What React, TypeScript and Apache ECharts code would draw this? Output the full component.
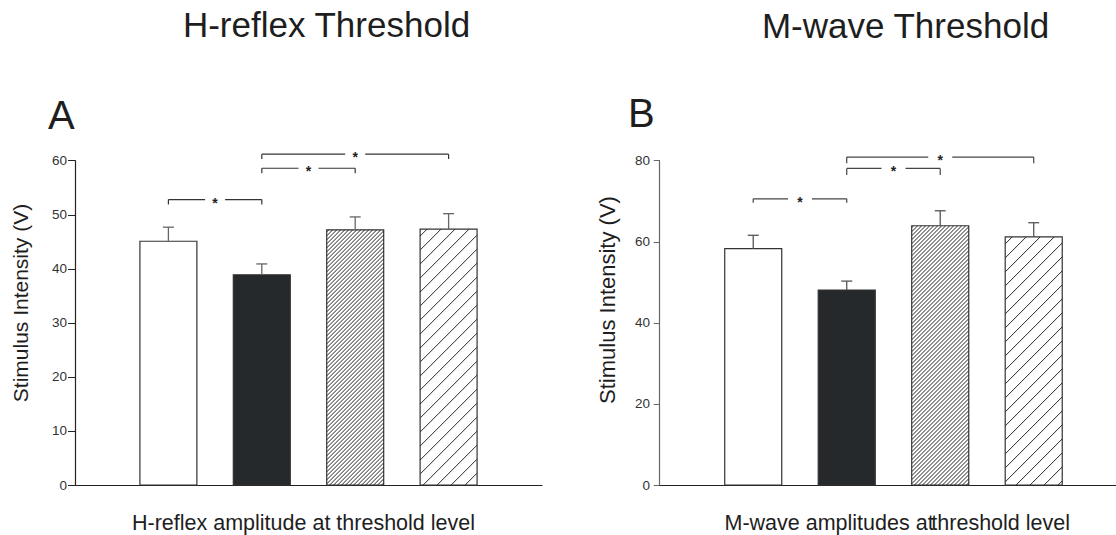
import React, { useEffect, useRef } from "react";
import * as echarts from "echarts";

// ---- data ----
const barX = [1, 2, 3, 4];
const barPatterns = ["open", "solid", "denseHatch", "sparseHatch"];

const hMeans = [45.1, 38.9, 47.2, 47.35];
const hErrs = [2.6, 2.0, 2.4, 2.85];
const hTicks = { min: 0, max: 60, interval: 10 };
// [fromX, toX, lineY, tipY]
const hBrackets = [
  [1, 2, 52.8, 51.9],
  [2, 3, 58.6, 57.7],
  [2, 4, 61.2, 60.3],
];

const mMeans = [58.3, 48.1, 63.95, 61.2];
const mErrs = [3.3, 2.2, 3.7, 3.5];
const mTicks = { min: 0, max: 80, interval: 20 };
const mBrackets = [
  [1, 2, 70.6, 69.6],
  [2, 3, 78.1, 76.5],
  [2, 4, 80.9, 79.4],
];

const titleLeft = "H-reflex Threshold";
const titleRight = "M-wave Threshold";
const panelA = "A";
const panelB = "B";
const yName = "Stimulus Intensity (V)";
const xNameLeft = "H-reflex amplitude at threshold level";
const xNameRightA = "M-wave amplitudes at";
const xNameRightB = "threshold level";
const starLabel = "*";

const FONT = "Liberation Sans, Arial, Helvetica, sans-serif";
const BAR_UNITS = 0.61;

function hatchLines(x0: number, yTop: number, w: number, h: number, step: number, color: string, lw: number) {
  const yB = yTop + h;
  const out: any[] = [];
  for (let c = -h + step / 2; c < w; c += step) {
    const v0 = Math.max(0, -c);
    const v1 = Math.min(h, w - c);
    if (v1 <= v0) continue;
    out.push({
      type: "line",
      shape: { x1: x0 + v0 + c, y1: yB - v0, x2: x0 + v1 + c, y2: yB - v1 },
      style: { stroke: color, lineWidth: lw },
    });
  }
  return out;
}

function barRender(errColor: string) {
  return (params: any, api: any) => {
    const x = api.value(0);
    const v = api.value(1);
    const e = api.value(2);
    const p = barPatterns[api.value(3)];
    const top = api.coord([x, v]);
    const base = api.coord([x, 0]);
    const errTop = api.coord([x, v + e]);
    const w = api.size([BAR_UNITS, 0])[0];
    const x0 = top[0] - w / 2;
    const h = base[1] - top[1];
    const children: any[] = [];
    children.push({
      type: "rect",
      shape: { x: x0, y: top[1], width: w, height: h },
      style: { fill: p === "solid" ? "#26292c" : "#ffffff", stroke: "none" },
    });
    if (p === "denseHatch") children.push(...hatchLines(x0, top[1], w, h, 4, "#222", 1));
    if (p === "sparseHatch") children.push(...hatchLines(x0, top[1], w, h, 14, "#2a2a2a", 1));
    children.push({
      type: "rect",
      shape: { x: x0, y: top[1], width: w, height: h },
      style: { fill: "transparent", stroke: "#333", lineWidth: 1.2 },
    });
    children.push({
      type: "line",
      shape: { x1: top[0], y1: top[1], x2: top[0], y2: errTop[1] },
      style: { stroke: errColor, lineWidth: 1.3 },
    });
    children.push({
      type: "line",
      shape: { x1: top[0] - 5.5, y1: errTop[1], x2: top[0] + 5.5, y2: errTop[1] },
      style: { stroke: errColor, lineWidth: 1.3 },
    });
    return { type: "group", children };
  };
}

function bracketRender(color: string, gap: number) {
  return (params: any, api: any) => {
    const a = api.coord([api.value(0), api.value(2)]);
    const b = api.coord([api.value(1), api.value(2)]);
    const ta = api.coord([api.value(0), api.value(3)]);
    const mid = (a[0] + b[0]) / 2;
    const st = { stroke: color, lineWidth: 1.2 };
    return {
      type: "group",
      children: [
        { type: "line", shape: { x1: a[0], y1: ta[1], x2: a[0], y2: a[1] }, style: st },
        { type: "line", shape: { x1: a[0], y1: a[1], x2: mid - gap, y2: a[1] }, style: st },
        { type: "line", shape: { x1: mid + gap, y1: b[1], x2: b[0], y2: b[1] }, style: st },
        { type: "line", shape: { x1: b[0], y1: b[1], x2: b[0], y2: ta[1] }, style: st },
        {
          type: "text",
          style: {
            text: starLabel,
            x: mid,
            y: a[1] + 3,
            textAlign: "center",
            textVerticalAlign: "middle",
            fontSize: 14,
            fontWeight: "bold",
            fontFamily: FONT,
            fill: "#222",
          },
        },
      ],
    };
  };
}

function yAxisCfg(gridIndex: number, t: any, color: string, tickLen: number, margin: number) {
  return {
    type: "value",
    gridIndex,
    min: t.min,
    max: t.max,
    interval: t.interval,
    axisLine: { show: true, lineStyle: { color, width: 1.2 } },
    axisTick: { show: true, inside: false, length: tickLen, lineStyle: { color, width: 1 } },
    axisLabel: { margin, fontSize: 13.5, color: "#333", fontFamily: FONT },
    splitLine: { show: false },
  };
}

function xAxisCfg(gridIndex: number, min: number, max: number) {
  return {
    type: "value",
    gridIndex,
    min,
    max,
    axisLine: { show: true, onZero: false, lineStyle: { color: "#222", width: 1.2 } },
    axisTick: { show: false },
    axisLabel: { show: false },
    splitLine: { show: false },
  };
}

export default function App() {
  const ref = useRef<HTMLDivElement>(null);
  useEffect(() => {
    document.body.style.margin = "0";
    if (!ref.current) return;
    const chart = echarts.init(ref.current, undefined, { renderer: "svg" });
    const txt = (text: string, x: number, y: number, size: number, align: string, extra: any = {}) => ({
      type: "text",
      x,
      y,
      ...extra,
      style: {
        text,
        x: 0,
        y: 0,
        textAlign: align,
        textVerticalAlign: "middle",
        fontSize: size,
        fontFamily: FONT,
        fill: "#1e1e1e",
      },
    });
    chart.setOption({
      animation: false,
      backgroundColor: "#ffffff",
      grid: [
        { left: 75, top: 160.7, width: 467, height: 324.3 },
        { left: 656, top: 160.7, width: 460, height: 324.3 },
      ],
      xAxis: [xAxisCfg(0, 0, 5), xAxisCfg(1, -0.04, 4.88)],
      yAxis: [yAxisCfg(0, hTicks, "#222", 7, 8), yAxisCfg(1, mTicks, "#666", 6, 6)],
      series: [
        {
          type: "custom",
          xAxisIndex: 0,
          yAxisIndex: 0,
          renderItem: barRender("#666"),
          encode: { x: 0, y: 1 },
          data: barX.map((x, i) => [x, hMeans[i], hErrs[i], i]),
          clip: false,
        },
        {
          type: "custom",
          xAxisIndex: 1,
          yAxisIndex: 1,
          renderItem: barRender("#555"),
          encode: { x: 0, y: 1 },
          data: barX.map((x, i) => [x, mMeans[i], mErrs[i], i]),
          clip: false,
        },
        {
          type: "custom",
          xAxisIndex: 0,
          yAxisIndex: 0,
          renderItem: bracketRender("#333", 10),
          encode: { x: [0, 1], y: [2, 3] },
          data: hBrackets,
          clip: false,
        },
        {
          type: "custom",
          xAxisIndex: 1,
          yAxisIndex: 1,
          renderItem: bracketRender("#444", 12),
          encode: { x: [0, 1], y: [2, 3] },
          data: mBrackets,
          clip: false,
        },
      ],
      graphic: [
        txt(titleLeft, 326.5, 24.5, 35, "center"),
        txt(titleRight, 905.5, 25.5, 35, "center"),
        txt(panelA, 48, 114.5, 40, "left"),
        txt(panelB, 628, 112.5, 40, "left"),
        txt(yName, 20.5, 303, 21, "center", { rotation: Math.PI / 2 }),
        txt(yName, 607.5, 300, 22, "center", { rotation: Math.PI / 2 }),
        txt(xNameLeft, 132, 523, 21.5, "left"),
        txt(xNameRightA, 724.5, 523, 21.5, "left"),
        txt(xNameRightB, 1070, 523, 21.5, "right"),
      ],
    });
    return () => chart.dispose();
  }, []);
  return <div ref={ref} style={{ width: 1116, height: 535 }} />;
}
